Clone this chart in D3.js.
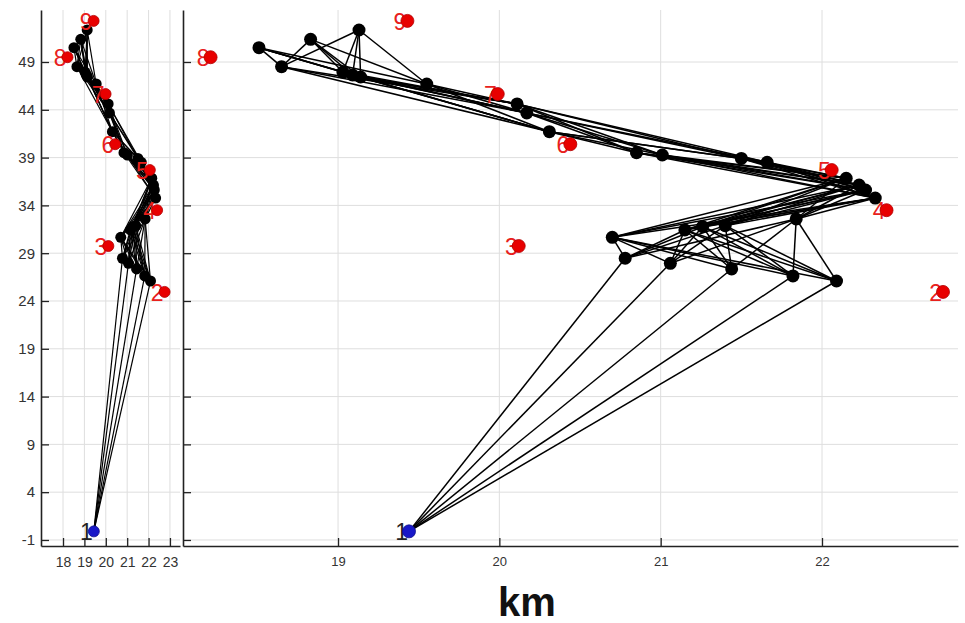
<!DOCTYPE html>
<html><head><meta charset="utf-8">
<script src="https://cdn.jsdelivr.net/npm/d3@7"></script>
<style>body{margin:0;background:#fff;} svg{display:block;}</style>
</head><body><svg id="c" width="965" height="623"></svg>
<script>
// Reference (numbered) points
const refLabels = ["1","2","3","4","5","6","7","8","9"];
const refX = [19.44, 22.75, 20.12, 22.40, 22.06, 20.44, 19.99, 18.21, 19.43];
const refY = [-0.1, 24.95, 29.75, 33.5, 37.7, 40.4, 45.65, 49.5, 53.3];

// Candidate points, grouped by stage (stage 0 = reference point 1)
const pointStage = [1,1,1,1,1, 2,2,2,2,2, 3,3,3,3, 4,4,4,4, 5,5,5, 6,6,6,6,6, 7,7,7];
const pointX = [20.78, 21.06, 21.44, 21.82, 22.09,
                20.70, 21.15, 21.26, 21.40, 21.84,
                22.15, 22.23, 22.27, 22.33,
                20.85, 21.01, 21.50, 21.66,
                20.11, 20.17, 20.31,
                18.65, 19.03, 19.09, 19.14, 19.55,
                18.51, 18.83, 19.13];
const pointY = [28.47, 27.94, 27.35, 26.62, 26.09,
                30.66, 31.43, 31.77, 31.88, 32.58,
                36.84, 36.13, 35.61, 34.77,
                39.51, 39.27, 38.91, 38.51,
                44.61, 43.67, 41.71,
                48.51, 47.95, 47.64, 47.43, 46.70,
                50.50, 51.37, 52.35];

const yTicks = [-1, 4, 9, 14, 19, 24, 29, 34, 39, 44, 49];
const leftXTicks = [18, 19, 20, 21, 22, 23];
const rightXTicks = [19, 20, 21, 22];
const xTitle = "km";

const svg = d3.select("#c");
const y = d3.scaleLinear().domain([-1.63, 54.44]).range([546, 10]);
const fmt = d => String(d);

const nodes = pointX.map((v, i) => ({x: v, y: pointY[i], s: pointStage[i]}));
nodes.push({x: refX[0], y: refY[0], s: 0});
const edges = [];
for (let s = 0; s < 7; s++) {
  const a = nodes.filter(n => n.s === s), b = nodes.filter(n => n.s === s + 1);
  a.forEach(p => b.forEach(q => edges.push([p, q])));
}
const refs = refLabels.map((l, i) => ({label: l, x: refX[i], y: refY[i]}));

const panels = [
  {x: d3.scaleLinear().domain([16.97, 23.47]).range([41, 180]), ticks: leftXTicks, labels: true, fs: 14, r: 5.5, lw: 1.2},
  {x: d3.scaleLinear().domain([18.039, 22.843]).range([183, 958]), ticks: rightXTicks, labels: false, fs: 13, r: 6.5, lw: 1.5}
];

panels.forEach(P => {
  const x = P.x, [x0, x1] = x.range();
  const g = svg.append("g");
  // grid
  g.append("g").selectAll("line").data(P.ticks).join("line")
    .attr("x1", d => x(d)).attr("x2", d => x(d)).attr("y1", 10).attr("y2", 546)
    .attr("stroke", "#dedede").attr("stroke-width", 1);
  g.append("g").selectAll("line").data(yTicks).join("line")
    .attr("x1", x0).attr("x2", x1).attr("y1", d => y(d)).attr("y2", d => y(d))
    .attr("stroke", "#dedede").attr("stroke-width", 1);
  // edges
  g.append("g").selectAll("line").data(edges).join("line")
    .attr("x1", d => x(d[0].x)).attr("y1", d => y(d[0].y))
    .attr("x2", d => x(d[1].x)).attr("y2", d => y(d[1].y))
    .attr("stroke", "#000").attr("stroke-width", P.lw);
  // black points
  g.append("g").selectAll("circle").data(nodes.filter(n => n.s > 0)).join("circle")
    .attr("cx", d => x(d.x)).attr("cy", d => y(d.y)).attr("r", P.r).attr("fill", "#000");
  // labels
  g.append("g").selectAll("text").data(refs).join("text")
    .attr("x", d => x(d.x) - 1).attr("y", d => y(d.y) + 1)
    .attr("text-anchor", "end").attr("dominant-baseline", "central")
    .attr("font-family", "Liberation Sans, Arial, sans-serif").attr("font-size", 23)
    .attr("fill", d => d.label === "1" ? "#222" : "#e8201c")
    .text(d => d.label);
  // reference dots
  g.append("g").selectAll("circle").data(refs).join("circle")
    .attr("cx", d => x(d.x)).attr("cy", d => y(d.y)).attr("r", P.r)
    .attr("fill", d => d.label === "1" ? "#1818c8" : "#e80000")
    .attr("stroke", d => d.label === "1" ? "#10108a" : "#b00000").attr("stroke-width", 0.8);
  // axes
  const ax = g.append("g").attr("transform", "translate(0,546)")
    .call(d3.axisBottom(x).tickValues(P.ticks).tickSizeInner(-8).tickSizeOuter(0).tickPadding(11).tickFormat(fmt));
  const ay = g.append("g").attr("transform", `translate(${x0},0)`)
    .call(d3.axisLeft(y).tickValues(yTicks).tickSizeInner(-8).tickSizeOuter(0).tickPadding(6)
      .tickFormat(P.labels ? fmt : () => ""));
  [ax, ay].forEach(a => {
    a.select(".domain").attr("stroke", "#222").attr("stroke-width", 1.6);
    a.selectAll(".tick line").attr("stroke", "#222").attr("stroke-width", 1.3);
    a.selectAll("text").attr("fill", "#333").attr("font-family", "Liberation Sans, Arial, sans-serif");
  });
  ax.selectAll("text").attr("font-size", P.fs);
  ay.selectAll("text").attr("font-size", 15);
});

svg.append("text").attr("x", 527).attr("y", 616).attr("text-anchor", "middle")
  .attr("font-family", "Liberation Sans, Arial, sans-serif").attr("font-weight", "bold")
  .attr("font-size", 40).attr("fill", "#111").text(xTitle);
</script></body></html>
